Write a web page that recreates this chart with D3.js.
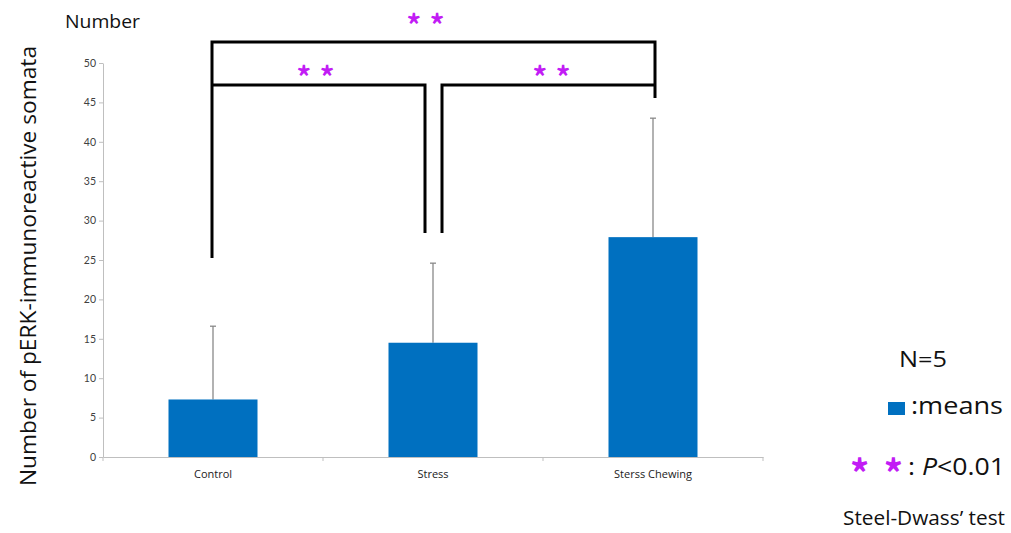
<!DOCTYPE html>
<html><head><meta charset="utf-8">
<script src="https://cdn.jsdelivr.net/npm/d3@7"></script>
<style>body{margin:0;background:#fff;} text{font-family:"Open Sans",Lato,sans-serif;}</style>
</head><body>
<svg id="c" width="1011" height="533"></svg>
<script>
const categories = ["Control", "Stress", "Sterss Chewing"];
const means = [7.3, 14.5, 27.9];
const errorTops = [16.6, 24.6, 43.0];
const yTicks = [0, 5, 10, 15, 20, 25, 30, 35, 40, 45, 50];
// significance brackets: [from index, to index]
const comparisons = [[0, 1], [1, 2], [0, 2]];
const sigLabels = ["* *", "* *", "* *"];

const svg = d3.select("#c");
const xr = [103, 763];
const x = d3.scaleBand().domain(categories).range(xr).paddingInner(0).paddingOuter(0);
const y = d3.scaleLinear().domain([0, 50]).range([457, 63]);
const cx = c => x(c) + x.bandwidth() / 2;
const barW = 89;
const STAR = "#C21CF5";

// y axis
const yAxis = svg.append("g").attr("transform", `translate(${xr[0]},0)`)
  .call(d3.axisLeft(y).tickValues(yTicks).tickSize(4).tickSizeOuter(0));
yAxis.select(".domain").attr("stroke", "#bfbfbf");
yAxis.selectAll(".tick line").attr("stroke", "#bfbfbf");
yAxis.selectAll(".tick text").attr("fill", "#404040").attr("font-size", 10.5).attr("x", -7)
  .style("font-family", "Lato, sans-serif");

// x axis
const xAxis = svg.append("g").attr("transform", `translate(0,${y(0)})`)
  .call(d3.axisBottom(x).tickSize(0).tickSizeOuter(0));
xAxis.select(".domain").attr("stroke", "#bfbfbf");
xAxis.selectAll(".tick text").attr("fill", "#222").attr("font-size", 11).attr("dy", "0.71em").attr("y", 13)
  .style("font-family", "Open Sans, sans-serif");
// category separator ticks
categories.concat([null]).forEach((c, i) => {
  const px = c ? x(c) : xr[1];
  svg.append("line").attr("x1", px).attr("x2", px).attr("y1", y(0)).attr("y2", y(0) + 4).attr("stroke", "#bfbfbf");
});

// error bars
const eg = svg.append("g");
categories.forEach((c, i) => {
  eg.append("line").attr("x1", cx(c)).attr("x2", cx(c)).attr("y1", y(means[i])).attr("y2", y(errorTops[i])).attr("stroke", "#7f7f7f").attr("stroke-width", 1.2);
  eg.append("line").attr("x1", cx(c) - 3).attr("x2", cx(c) + 3).attr("y1", y(errorTops[i])).attr("y2", y(errorTops[i])).attr("stroke", "#7f7f7f").attr("stroke-width", 1.2);
});

// bars
svg.append("g").selectAll("rect").data(categories).join("rect")
  .attr("x", c => cx(c) - barW / 2).attr("width", barW)
  .attr("y", (c, i) => y(means[i])).attr("height", (c, i) => y(0) - y(means[i]))
  .attr("fill", "#0070C0");

// brackets
const bc = i => cx(categories[i]);
function path(d) { svg.append("path").attr("d", d).attr("stroke", "#000").attr("stroke-width", 3).attr("fill", "none"); }
path(`M${bc(0) - 1},258 L${bc(0) - 1},42 L${bc(2) + 2},42 L${bc(2) + 2},98`);
path(`M${bc(0) - 1},85 L${bc(1) - 8},85 L${bc(1) - 8},233`);
path(`M${bc(1) + 9},233 L${bc(1) + 9},85 L${bc(2) + 2},85`);

function stars(xc, yc, label, fs, ls) {
  svg.append("text").attr("x", xc).attr("y", yc).attr("text-anchor", "middle")
    .attr("font-size", fs).attr("font-weight", "bold").attr("fill", STAR).attr("letter-spacing", ls)
    .attr("xml:space", "preserve").style("font-family", "Noto Sans CJK JP, sans-serif").text(label);
}
stars(316, 88, sigLabels[0], 29, 1);
stars(552, 88, sigLabels[1], 29, 1);
stars(426, 36, sigLabels[2], 29, 1);

// titles
svg.append("text").attr("x", 65).attr("y", 28).attr("font-size", 18).attr("textLength", 75).attr("lengthAdjust", "spacingAndGlyphs").attr("fill", "#111").text("Number");
svg.append("text").attr("transform", "translate(36,266) rotate(-90)").attr("text-anchor", "middle")
  .attr("font-size", 21).attr("textLength", 440).attr("lengthAdjust", "spacingAndGlyphs").attr("fill", "#111").text("Number of pERK-immunoreactive somata");

// legend
svg.append("text").attr("x", 899).attr("y", 367).attr("font-size", 21).attr("textLength", 48).attr("lengthAdjust", "spacingAndGlyphs").attr("fill", "#111").text("N=5");
svg.append("rect").attr("x", 888).attr("y", 402).attr("width", 17).attr("height", 13).attr("fill", "#0070C0");
svg.append("text").attr("x", 911).attr("y", 414).attr("font-size", 23).attr("textLength", 92).attr("lengthAdjust", "spacingAndGlyphs").attr("fill", "#111").text(":means");
stars(878, 488, "* *", 38, 3);
const pt = svg.append("text").attr("x", 908).attr("y", 475).attr("font-size", 24).attr("fill", "#111")
  .attr("textLength", 97).attr("lengthAdjust", "spacingAndGlyphs");
pt.append("tspan").text(": ");
pt.append("tspan").attr("font-style", "italic").text("P");
pt.append("tspan").text("<0.01");
svg.append("text").attr("x", 843).attr("y", 525).attr("font-size", 20).attr("textLength", 162).attr("lengthAdjust", "spacingAndGlyphs").attr("fill", "#111").text("Steel-Dwass\u2019 test");
</script>
</body></html>
